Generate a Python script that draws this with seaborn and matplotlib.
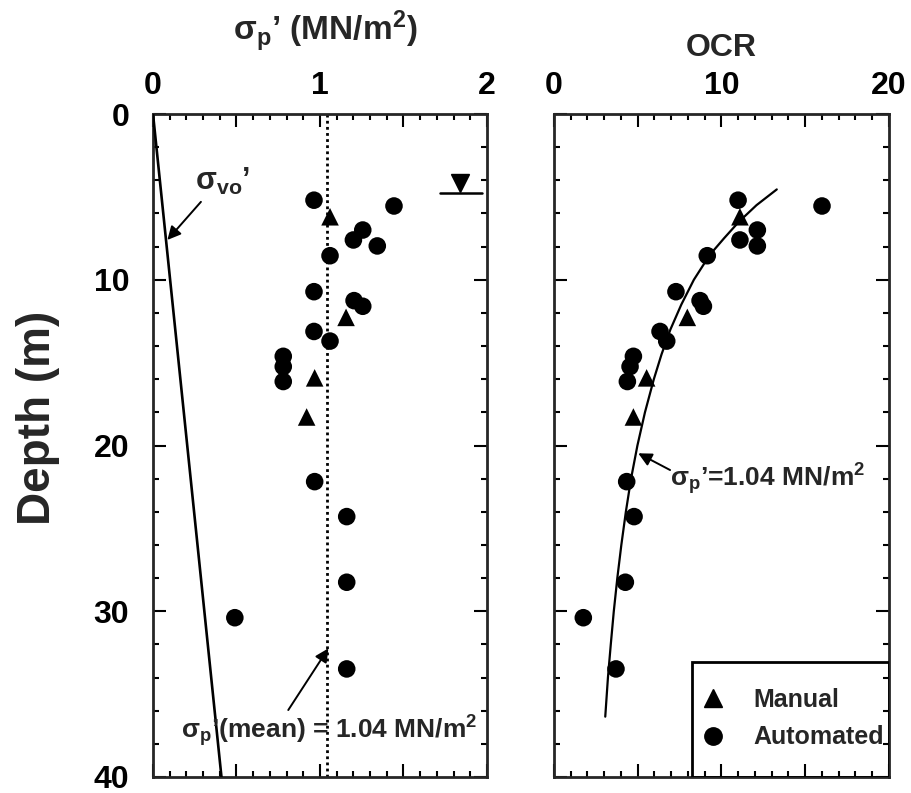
import matplotlib
matplotlib.use("Agg")
import matplotlib.pyplot as plt
from matplotlib.lines import Line2D
from matplotlib.patches import Rectangle
from matplotlib.ticker import FixedLocator, FixedFormatter, MultipleLocator
import pandas as pd
import seaborn as sns

# ---- data -------------------------------------------------------------
manual_depth = [6.2, 12.27, 15.92, 18.28]
manual_sigma_p = [1.06, 1.156, 0.968, 0.92]
manual_ocr = [11.1, 7.96, 5.53, 4.74]

auto_depth = [5.2, 5.55, 7.0, 7.6, 7.96, 8.55, 10.72, 11.26, 11.6, 13.12,
              13.7, 14.62, 15.24, 16.14, 22.18, 24.29, 28.25, 30.39, 33.48]
auto_sigma_p = [0.964, 1.443, 1.256, 1.20, 1.343, 1.06, 0.964, 1.204, 1.256, 0.964,
                1.06, 0.78, 0.78, 0.78, 0.968, 1.16, 1.16, 0.49, 1.16]
auto_ocr = [10.99, 16.0, 12.14, 11.1, 12.14, 9.15, 7.28, 8.72, 8.92, 6.33,
            6.73, 4.74, 4.54, 4.38, 4.34, 4.78, 4.26, 1.75, 3.7]

# effective overburden stress line
sigma_vo_depth = [0, 40]
sigma_vo = [0, 0.41]

# mean preconsolidation stress and the OCR profile it implies
mean_sigma_p = 1.04
curve_depth = [4.55, 5.5, 6.5, 7.5, 8.5, 10.0, 11.5, 13.0, 14.5, 16.0,
               18.0, 20.0, 22.0, 24.0, 26.0, 28.0, 30.0, 32.0, 34.0, 36.36]
curve_ocr = [13.3, 12.09, 11.04, 10.15, 9.3, 8.35, 7.6, 6.95, 6.42, 5.96,
             5.43, 4.98, 4.6, 4.29, 4.02, 3.78, 3.57, 3.39, 3.22, 3.06]

water_table_depth = 4.78
method_labels = ["Manual", "Automated"]

df = pd.DataFrame({
    "depth": manual_depth + auto_depth,
    "sigma_p": manual_sigma_p + auto_sigma_p,
    "ocr": manual_ocr + auto_ocr,
    "method": ["Manual"] * len(manual_depth) + ["Automated"] * len(auto_depth),
})

# ---- style ------------------------------------------------------------
sns.set_style("ticks")
plt.rcParams["font.family"] = ["Liberation Sans", "DejaVu Sans"]
plt.rcParams["font.weight"] = "bold"
plt.rcParams["mathtext.fontset"] = "custom"
plt.rcParams["mathtext.rm"] = "Liberation Sans:bold"
plt.rcParams["mathtext.bf"] = "Liberation Sans:bold"
plt.rcParams["mathtext.it"] = "Liberation Sans:bold"
plt.rcParams["mathtext.default"] = "bf"

fig = plt.figure(figsize=(9.12, 7.93), dpi=100)
ax1 = fig.add_axes([153 / 912, 16 / 793, 334 / 912, 663 / 793])
ax2 = fig.add_axes([554 / 912, 16 / 793, 335 / 912, 663 / 793])

markers = {"Manual": "^", "Automated": "o"}
for ax, xcol in ((ax1, "sigma_p"), (ax2, "ocr")):
    sns.scatterplot(data=df, x=xcol, y="depth", style="method", markers=markers,
                    color="black", s=160, edgecolor="none", linewidth=0,
                    legend=False, ax=ax, zorder=4)

# left panel: overburden line, mean line, water table
sns.lineplot(x=sigma_vo, y=sigma_vo_depth, sort=False, estimator=None,
             color="black", lw=1.9, ax=ax1, zorder=3)
ax1.axvline(mean_sigma_p, color="black", lw=2.0, linestyle=(0, (1, 1.2)),
            dash_capstyle="butt", zorder=2)
ax1.plot([1.84], [water_table_depth - 0.6], marker="v", ms=13, color="black",
         linestyle="none", zorder=4)
ax1.plot([1.72, 1.97], [water_table_depth, water_table_depth], color="black", lw=1.8)

# right panel: OCR profile for the mean preconsolidation stress
sns.lineplot(x=curve_ocr, y=curve_depth, sort=False, estimator=None,
             color="black", lw=1.6, ax=ax2, zorder=3)

# ---- axes -------------------------------------------------------------
ax1.set_xlim(0, 2)
ax2.set_xlim(0, 20)
for ax in (ax1, ax2):
    ax.set_ylim(40, 0)
    ax.set_xlabel("")
    ax.set_ylabel("")
    for sp in ax.spines.values():
        sp.set_visible(True)
        sp.set_linewidth(2.0)
    ax.yaxis.set_major_locator(FixedLocator([0, 10, 20, 30, 40]))
    ax.yaxis.set_minor_locator(MultipleLocator(2))
    ax.tick_params(axis="both", which="both", direction="in", top=True, bottom=True,
                   left=True, right=True, labeltop=True, labelbottom=False,
                   labelright=False, colors="black", width=1.5)
    ax.tick_params(axis="both", which="major", length=9.5, labelsize=23)
    ax.tick_params(axis="both", which="minor", length=4.5)
    ax.tick_params(axis="x", which="major", pad=9)
    ax.tick_params(axis="y", which="major", pad=17)

ax1.xaxis.set_major_locator(FixedLocator([0, 0.5, 1, 1.5, 2]))
ax1.xaxis.set_major_formatter(FixedFormatter(["0", "", "1", "", "2"]))
ax1.xaxis.set_minor_locator(MultipleLocator(0.1))
ax1.yaxis.set_major_formatter(FixedFormatter(["0", "10", "20", "30", "40"]))

ax2.xaxis.set_major_locator(FixedLocator([0, 5, 10, 15, 20]))
ax2.xaxis.set_major_formatter(FixedFormatter(["0", "", "10", "", "20"]))
ax2.xaxis.set_minor_locator(MultipleLocator(1))
ax2.tick_params(axis="y", labelleft=False)

# titles above the top axes
ax1.text(0.515, 1.111, "σ$_{p}$’ (MN/m$^{2}$)", transform=ax1.transAxes,
         ha="center", va="baseline", fontsize=24)
ax2.text(0.5, 1.087, "OCR", transform=ax2.transAxes,
         ha="center", va="baseline", fontsize=23)
fig.text(38 / 912, 1 - 418 / 793, "Depth (m)", rotation=90, ha="center",
         va="center", fontsize=33)

# annotations
arrow = dict(arrowstyle="-|>", color="black", lw=1.4, mutation_scale=20,
             shrinkA=0, shrinkB=0)
ax1.text(0.25, 4.6, "σ$_{vo}$’", fontsize=22, ha="left", va="baseline", zorder=5)
ax1.annotate("", xy=(0.086, 7.6), xytext=(0.287, 5.3), arrowprops=arrow)
ax1.text(0.17, 37.65, "σ$_{p}$’(mean) = 1.04 MN/m$^{2}$", fontsize=19,
         ha="left", va="baseline", zorder=5)
ax1.annotate("", xy=(1.05, 32.24), xytext=(0.81, 35.96), arrowprops=arrow)

ax2.text(6.93, 22.49, "σ$_{p}$’=1.04 MN/m$^{2}$", fontsize=19,
         ha="left", va="baseline", zorder=5)
ax2.annotate("", xy=(5.03, 20.47), xytext=(6.93, 21.48), arrowprops=arrow)

# legend with its box in the lower right corner
handles = [Line2D([], [], marker=markers[m], color="black", linestyle="none",
                  markersize=12.5) for m in method_labels]
ax2.add_patch(Rectangle((0.411, 0), 0.589, 0.174, transform=ax2.transAxes,
                        fill=False, edgecolor="black", lw=2.0, zorder=5))
ax2.legend(handles, method_labels, loc="upper left", bbox_to_anchor=(0.438, 0.134),
           frameon=False, borderpad=0, handlelength=1.0, handletextpad=1.1,
           labelspacing=0.53, fontsize=18, borderaxespad=0)

fig.savefig("out.png", dpi=100, facecolor="white")
